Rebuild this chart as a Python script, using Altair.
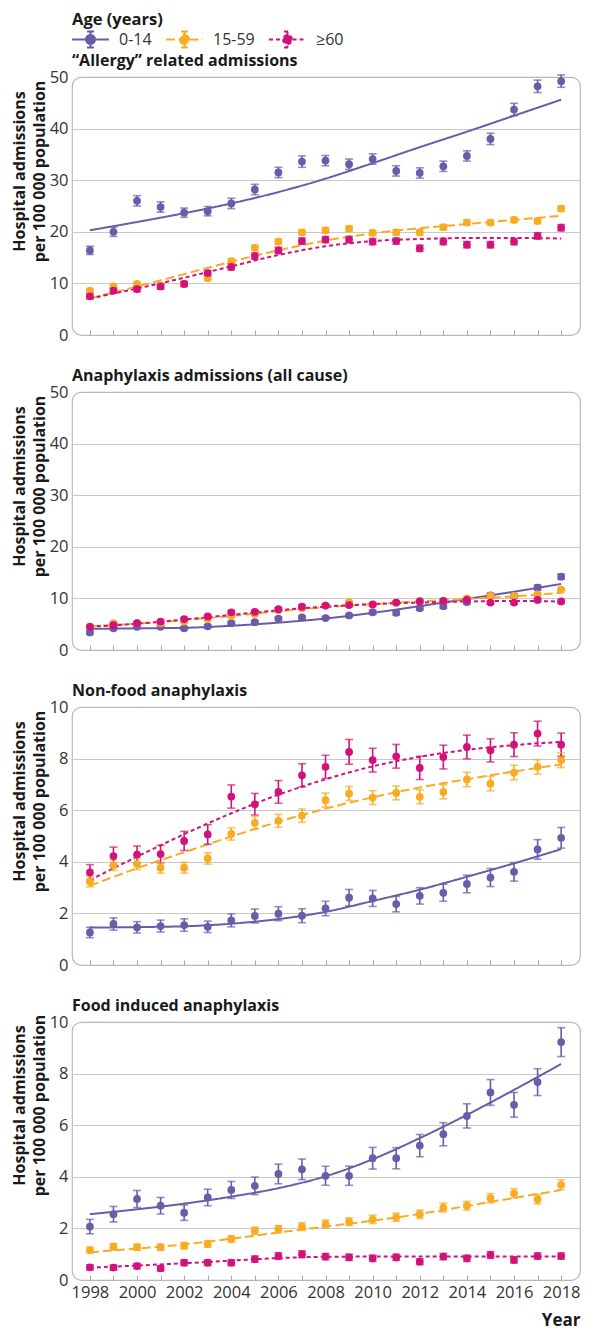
import altair as alt
import pandas as pd

YEARS = list(range(1998, 2019))
FIT_YEARS = list(range(1998, 2019, 2))
AGES = ["0-14", "15-59", "≥60"]
COLORS = ["#6b5ba9", "#f9ab22", "#d2127c"]
DASHES = [[1, 0], [9, 4], [4, 3]]

TITLES = ["“Allergy” related admissions", "Anaphylaxis admissions (all cause)",
          "Non-food anaphylaxis", "Food induced anaphylaxis"]
YMAX = [50, 50, 10, 10]
YTICKS = [[0, 10, 20, 30, 40, 50], [0, 10, 20, 30, 40, 50],
          [0, 2, 4, 6, 8, 10], [0, 2, 4, 6, 8, 10]]
XLABELS = list(range(1998, 2019, 2))

# ---- "Allergy" related admissions ----
allergy_014 = [16.4, 20.0, 26.0, 24.8, 23.7, 24.0, 25.5, 28.2, 31.5, 33.6, 33.8,
               33.1, 34.1, 31.8, 31.4, 32.7, 34.7, 38.0, 43.7, 48.2, 49.2]
allergy_014_err = [0.8, 0.9, 1.0, 1.0, 0.9, 0.9, 1.0, 1.0, 1.0, 1.1, 1.0,
                   1.0, 1.0, 1.0, 1.0, 1.0, 1.0, 1.1, 1.2, 1.2, 1.2]
allergy_1559 = [8.6, 9.4, 9.9, 9.6, 9.9, 11.0, 14.3, 16.9, 18.1, 19.9, 20.3,
                20.6, 19.8, 19.9, 19.9, 20.9, 21.8, 21.8, 22.3, 22.1, 24.5]
allergy_1559_err = [0.4, 0.4, 0.4, 0.4, 0.4, 0.4, 0.5, 0.5, 0.5, 0.5, 0.5,
                    0.5, 0.5, 0.5, 0.5, 0.5, 0.5, 0.5, 0.5, 0.5, 0.5]
allergy_60 = [7.5, 8.6, 8.9, 9.4, 9.9, 12.0, 13.2, 15.3, 16.4, 18.2, 18.5,
              18.5, 18.1, 18.2, 16.8, 18.1, 17.5, 17.5, 18.1, 19.2, 20.8]
allergy_60_err = [0.5, 0.5, 0.5, 0.5, 0.5, 0.5, 0.6, 0.6, 0.6, 0.6, 0.6,
                  0.6, 0.6, 0.6, 0.6, 0.6, 0.6, 0.6, 0.6, 0.6, 0.6]
allergy_fit_014 = [20.3, 21.9, 23.6, 25.5, 27.7, 30.3, 33.3, 36.4, 39.4, 42.5, 45.6]
allergy_fit_1559 = [7.1, 9.4, 11.8, 14.2, 16.4, 18.3, 19.7, 20.7, 21.5, 22.3, 23.1]
allergy_fit_60 = [7.1, 9.0, 11.1, 13.3, 15.5, 17.2, 18.2, 18.6, 18.8, 18.8, 18.7]

# ---- Anaphylaxis admissions (all cause) ----
ana_014 = [3.4, 4.2, 4.5, 4.5, 4.2, 4.6, 5.2, 5.4, 6.1, 6.3, 6.2,
           6.7, 7.3, 7.2, 8.1, 8.5, 9.3, 10.6, 10.5, 12.1, 14.2]
ana_014_err = [0.3, 0.3, 0.3, 0.3, 0.3, 0.3, 0.3, 0.3, 0.3, 0.3, 0.3,
               0.3, 0.4, 0.4, 0.4, 0.4, 0.4, 0.4, 0.4, 0.5, 0.5]
ana_1559 = [4.6, 5.2, 5.2, 5.2, 5.5, 6.0, 6.6, 7.0, 7.7, 8.1, 8.6,
            9.3, 8.9, 9.2, 9.5, 9.5, 10.0, 10.5, 10.5, 10.8, 11.7]
ana_1559_err = [0.2, 0.2, 0.2, 0.2, 0.2, 0.2, 0.2, 0.2, 0.2, 0.2, 0.2,
                0.2, 0.2, 0.2, 0.2, 0.2, 0.2, 0.2, 0.2, 0.2, 0.2]
ana_60 = [4.5, 4.8, 5.2, 5.5, 6.0, 6.5, 7.3, 7.4, 7.9, 8.4, 8.6,
          8.7, 8.8, 9.2, 9.4, 9.5, 9.7, 9.2, 9.2, 9.7, 9.4]
ana_60_err = [0.3, 0.3, 0.3, 0.3, 0.3, 0.3, 0.3, 0.3, 0.3, 0.3, 0.3,
              0.3, 0.3, 0.3, 0.3, 0.3, 0.3, 0.3, 0.3, 0.3, 0.3]
ana_fit_014 = [4.1, 4.2, 4.3, 4.7, 5.3, 6.1, 7.2, 8.5, 9.9, 11.3, 12.8]
ana_fit_1559 = [4.6, 5.1, 5.8, 6.6, 7.5, 8.3, 8.9, 9.4, 9.9, 10.4, 11.1]
ana_fit_60 = [4.5, 5.1, 5.9, 6.8, 7.7, 8.4, 8.9, 9.2, 9.4, 9.5, 9.4]

# ---- Non-food anaphylaxis ----
nonfood_014 = [1.26, 1.59, 1.46, 1.51, 1.55, 1.48, 1.73, 1.90, 1.99, 1.91, 2.19,
               2.61, 2.58, 2.36, 2.68, 2.80, 3.14, 3.39, 3.61, 4.48, 4.93]
nonfood_014_err = [0.20, 0.24, 0.22, 0.23, 0.24, 0.22, 0.25, 0.27, 0.27, 0.27, 0.28,
                   0.32, 0.31, 0.30, 0.32, 0.33, 0.34, 0.35, 0.36, 0.38, 0.40]
nonfood_1559 = [3.23, 3.87, 3.91, 3.77, 3.77, 4.13, 5.08, 5.51, 5.59, 5.79, 6.39,
                6.65, 6.49, 6.67, 6.52, 6.71, 7.19, 7.03, 7.46, 7.68, 7.94]
nonfood_1559_err = [0.20, 0.21, 0.21, 0.21, 0.21, 0.22, 0.24, 0.25, 0.25, 0.26, 0.27,
                    0.27, 0.27, 0.27, 0.27, 0.27, 0.28, 0.28, 0.28, 0.28, 0.29]
nonfood_60 = [3.59, 4.22, 4.28, 4.30, 4.81, 5.06, 6.53, 6.23, 6.71, 7.35, 7.68,
              8.26, 7.94, 8.09, 7.64, 8.06, 8.45, 8.32, 8.54, 8.97, 8.54]
nonfood_60_err = [0.30, 0.35, 0.33, 0.34, 0.37, 0.38, 0.45, 0.42, 0.44, 0.45, 0.45,
                  0.48, 0.46, 0.46, 0.45, 0.46, 0.46, 0.45, 0.46, 0.48, 0.45]
nonfood_fit_014 = [1.45, 1.47, 1.50, 1.60, 1.78, 2.06, 2.48, 2.92, 3.42, 3.94, 4.49]
nonfood_fit_1559 = [3.07, 3.75, 4.37, 4.98, 5.55, 6.06, 6.50, 6.88, 7.20, 7.50, 7.77]
nonfood_fit_60 = [3.29, 4.20, 5.07, 5.88, 6.60, 7.20, 7.70, 8.07, 8.34, 8.52, 8.65]

# ---- Food induced anaphylaxis ----
food_014 = [2.07, 2.55, 3.14, 2.88, 2.61, 3.20, 3.49, 3.65, 4.11, 4.29, 4.04,
            4.04, 4.72, 4.72, 5.21, 5.65, 6.36, 7.27, 6.79, 7.67, 9.22]
food_014_err = [0.28, 0.30, 0.33, 0.32, 0.30, 0.32, 0.33, 0.34, 0.38, 0.40, 0.37,
                0.37, 0.42, 0.41, 0.43, 0.45, 0.47, 0.50, 0.48, 0.52, 0.56]
food_1559 = [1.16, 1.29, 1.27, 1.27, 1.33, 1.40, 1.59, 1.91, 1.97, 2.07, 2.17,
             2.26, 2.35, 2.43, 2.55, 2.81, 2.88, 3.17, 3.36, 3.13, 3.69]
food_1559_err = [0.11, 0.12, 0.12, 0.12, 0.12, 0.13, 0.13, 0.14, 0.14, 0.15, 0.15,
                 0.15, 0.16, 0.16, 0.16, 0.17, 0.17, 0.18, 0.18, 0.18, 0.19]
food_60 = [0.49, 0.48, 0.54, 0.45, 0.67, 0.67, 0.67, 0.81, 0.93, 1.00, 0.91,
           0.88, 0.84, 0.88, 0.71, 0.91, 0.84, 0.97, 0.78, 0.93, 0.93]
food_60_err = [0.10, 0.10, 0.10, 0.10, 0.11, 0.11, 0.11, 0.12, 0.13, 0.13, 0.12,
               0.12, 0.12, 0.12, 0.11, 0.12, 0.12, 0.13, 0.12, 0.12, 0.12]
food_fit_014 = [2.55, 2.74, 2.96, 3.23, 3.56, 4.02, 4.68, 5.50, 6.40, 7.37, 8.37]
food_fit_1559 = [1.07, 1.22, 1.38, 1.60, 1.84, 2.07, 2.30, 2.56, 2.87, 3.18, 3.49]
food_fit_60 = [0.48, 0.56, 0.65, 0.75, 0.85, 0.90, 0.91, 0.91, 0.91, 0.91, 0.91]

VALUES = [
    [allergy_014, allergy_1559, allergy_60],
    [ana_014, ana_1559, ana_60],
    [nonfood_014, nonfood_1559, nonfood_60],
    [food_014, food_1559, food_60],
]
ERRORS = [
    [allergy_014_err, allergy_1559_err, allergy_60_err],
    [ana_014_err, ana_1559_err, ana_60_err],
    [nonfood_014_err, nonfood_1559_err, nonfood_60_err],
    [food_014_err, food_1559_err, food_60_err],
]
FITS = [
    [allergy_fit_014, allergy_fit_1559, allergy_fit_60],
    [ana_fit_014, ana_fit_1559, ana_fit_60],
    [nonfood_fit_014, nonfood_fit_1559, nonfood_fit_60],
    [food_fit_014, food_fit_1559, food_fit_60],
]

FONT = "Open Sans"
TEXT = "#1a1a1a"
W, H = 508, 258
TITLE_Y = [94, 94, 94, 83]

# legend symbol: dashed line, error bar and dot (shifted right so it starts at the entry's left)
LEG_PATH = ("M-1.1,0H0.25M1.25,0H2.6M0.75,-0.8V0.8M0.4,-0.8H1.1M0.4,0.8H1.1"
            "M0.3,0A0.45,0.45,0,1,0,1.2,0A0.45,0.45,0,1,0,0.3,0Z")

LEGEND = alt.Legend(
    title="Age (years)", orient="none", direction="horizontal",
    legendX=0, legendY=-65,
    titleFont=FONT, titleFontSize=16.5, titleFontWeight="bold", titleColor=TEXT,
    titlePadding=0,
    labelFont=FONT, labelFontSize=16, labelColor="#333333", labelOffset=25,
    symbolType=LEG_PATH, symbolSize=400, symbolStrokeWidth=2, symbolOpacity=1,
    columnPadding=10,
)

color_scale = alt.Scale(domain=AGES, range=COLORS)
dash_scale = alt.Scale(domain=AGES, range=DASHES)


def make_panel(p):
    last = p == 3
    pts_rows, fit_rows = [], []
    for a, age in enumerate(AGES):
        for yr, v, e in zip(YEARS, VALUES[p][a], ERRORS[p][a]):
            pts_rows.append({"age": age, "year": yr, "value": v,
                             "lo": round(v - e, 3), "hi": round(v + e, 3)})
        for yr, f in zip(FIT_YEARS, FITS[p][a]):
            fit_rows.append({"age": age, "year": yr, "fit": f})
    pts = pd.DataFrame(pts_rows)
    fit = pd.DataFrame(fit_rows)

    xaxis = alt.Axis(
        values=YEARS, format="d", labels=last,
        labelExpr="datum.value % 2 == 0 ? datum.label : ''",
        labelOverlap=False, labelFlush=False, labelBound=False,
        labelFont=FONT, labelFontSize=16.5, labelColor="#333333", labelPadding=4,
        ticks=True, tickSize=5, tickColor="#a8a8a8", tickWidth=1,
        domain=False, grid=False, offset=-5,
        title="Year" if last else None,
        titleFont=FONT, titleFontSize=17, titleFontWeight="bold", titleColor=TEXT,
        titleAnchor="end", titleAlign="right", titlePadding=12,
    )
    xscale = alt.Scale(domain=[1997.24, 2018.8], nice=False, zero=False)
    X = alt.X("year:Q", scale=xscale, axis=xaxis)

    yaxis = alt.Axis(
        values=YTICKS[p], title=["Hospital admissions", "per 100 000 population"],
        titleFont=FONT, titleFontSize=16, titleFontWeight="bold", titleColor=TEXT,
        titleLineHeight=20, titleY=TITLE_Y[p], titleAlign="center", titlePadding=2,
        labelFont=FONT, labelFontSize=16.5, labelColor="#333333", labelPadding=4,
        ticks=False, tickSize=0, domain=False, grid=True, gridColor="#c9c9c9", gridWidth=1.2,
        gridOpacity={"condition": {"test": f"datum.value == 0 || datum.value == {YMAX[p]}",
                                   "value": 0}, "value": 1},
    )
    yscale = alt.Scale(domain=[0, YMAX[p]], nice=False)

    color = alt.Color("age:N", scale=color_scale, legend=LEGEND)
    dash = alt.StrokeDash("age:N", scale=dash_scale, legend=LEGEND)

    lines = alt.Chart(fit).mark_line(strokeWidth=2, interpolate="monotone").encode(
        x=X, y=alt.Y("fit:Q", scale=yscale, axis=yaxis), color=color, strokeDash=dash)
    bars = alt.Chart(pts).mark_rule(strokeWidth=1.6).encode(
        x=X, y=alt.Y("lo:Q", scale=yscale, axis=yaxis), y2="hi:Q", color=color)
    cap_lo = alt.Chart(pts).mark_tick(orient="horizontal", size=8, thickness=1.6).encode(
        x=X, y=alt.Y("lo:Q", scale=yscale, axis=yaxis), color=color)
    cap_hi = alt.Chart(pts).mark_tick(orient="horizontal", size=8, thickness=1.6).encode(
        x=X, y=alt.Y("hi:Q", scale=yscale, axis=yaxis), color=color)
    dots = alt.Chart(pts).mark_circle(size=60, opacity=1).encode(
        x=X, y=alt.Y("value:Q", scale=yscale, axis=yaxis), color=color)

    return alt.layer(lines, bars, cap_lo, cap_hi, dots).properties(
        width=W, height=H,
        title=alt.TitleParams(TITLES[p], anchor="start", frame="group", font=FONT,
                              fontSize=16, fontWeight="bold", color=TEXT, offset=0),
    )


chart = alt.vconcat(*[make_panel(p) for p in range(4)], spacing=22).resolve_scale(
    color="shared", strokeDash="shared"
).properties(
    padding={"left": 2, "top": 4, "right": 4, "bottom": 0},
    background="white",
).configure_view(
    stroke="#b8b8b8", strokeWidth=1.2, cornerRadius=9
)

chart.save("out.html", embed_options={"renderer": "svg", "actions": False})
